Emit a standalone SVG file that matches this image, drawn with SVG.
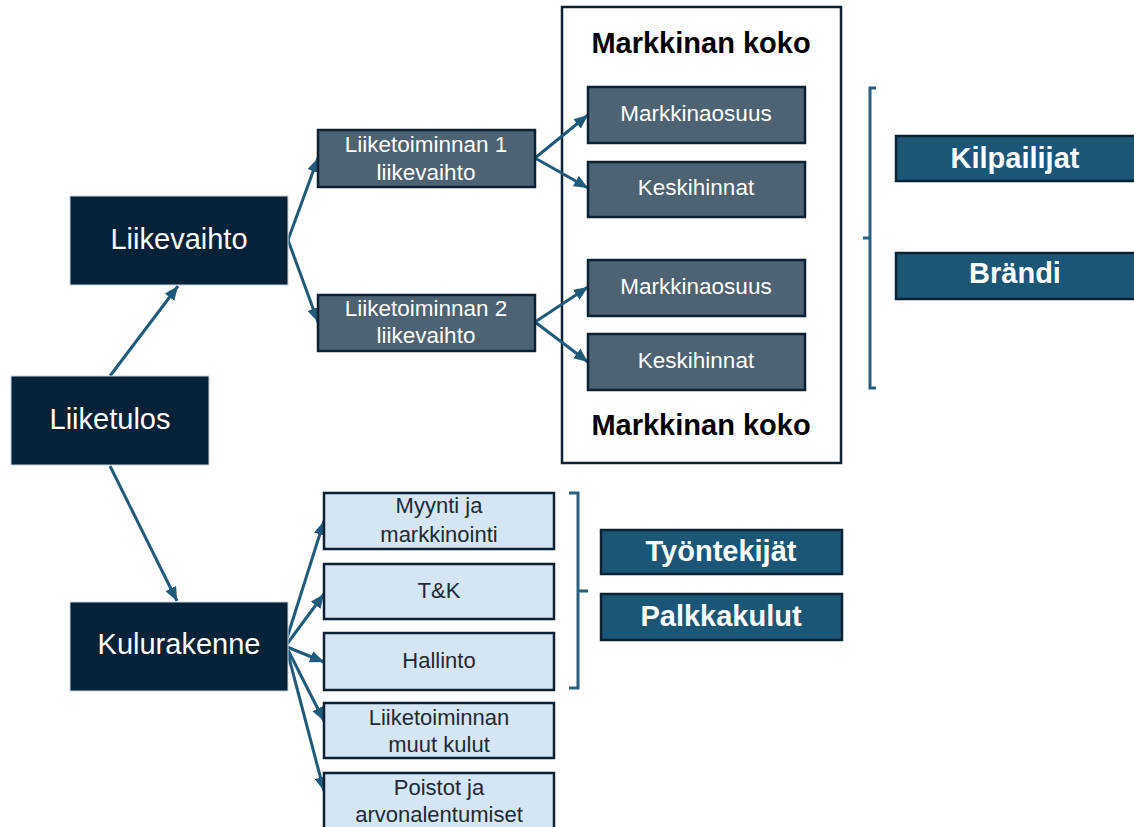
<svg xmlns="http://www.w3.org/2000/svg" width="1134" height="827" viewBox="0 0 1134 827">
<style>
.dark{fill:#052238;stroke:#c9d3dc;stroke-width:1}
.mid{fill:#4d6273;stroke:#0c2234;stroke-width:2.5}
.teal{fill:#1b5676;stroke:#0b2233;stroke-width:2.5}
.light{fill:#d6e5f4;stroke:#0c2234;stroke-width:2.5}
.frame{fill:#ffffff;stroke:#0c2234;stroke-width:2.5}
.t{font-family:"Liberation Sans",Arial,sans-serif;text-anchor:middle}
.big{font-size:29px;fill:#ffffff}
.med{font-size:22.5px;fill:#ffffff}
.lt{font-size:22px;fill:#1c2a38}
.bw{font-size:29px;font-weight:bold;fill:#ffffff}
.bb{font-size:29px;font-weight:bold;fill:#000000}
.conn{stroke:#1f5a7a;stroke-width:3;fill:none;marker-end:url(#ah)}
.br{stroke:#2a5f80;stroke-width:3;fill:none}
</style>
<defs>
<marker id="ah" markerUnits="userSpaceOnUse" markerWidth="14" markerHeight="12" refX="14" refY="6" orient="auto">
<path d="M0,0 L14,6 L0,12 z" fill="#1f5a7a"/>
</marker>
</defs>
<rect width="1134" height="827" fill="#ffffff"/>
<g id="frame-markkinan-koko">
<rect class="frame" x="562" y="7" width="279" height="456"/>
<text class="t bb" x="701" y="53">Markkinan koko</text>
<text class="t bb" x="701" y="435">Markkinan koko</text>
</g>
<g id="connectors">
<line class="conn" x1="110" y1="376" x2="178" y2="286"/>
<line class="conn" x1="110" y1="466" x2="177" y2="601"/>
<line class="conn" x1="288" y1="240" x2="318" y2="158"/>
<line class="conn" x1="288" y1="240" x2="318" y2="322"/>
<line class="conn" x1="535" y1="158" x2="588" y2="115"/>
<line class="conn" x1="535" y1="158" x2="588" y2="188"/>
<line class="conn" x1="535" y1="322" x2="588" y2="287"/>
<line class="conn" x1="535" y1="322" x2="588" y2="362"/>
<line class="conn" x1="287" y1="638" x2="324" y2="521"/>
<line class="conn" x1="287" y1="644" x2="324" y2="594"/>
<line class="conn" x1="287" y1="647" x2="324" y2="662"/>
<line class="conn" x1="288" y1="650" x2="324" y2="721"/>
<line class="conn" x1="288" y1="654" x2="324" y2="791"/>
</g>
<g id="liiketulos">
<rect class="dark" x="11" y="376" width="198" height="89"/>
<text class="t big" x="110" y="429">Liiketulos</text>
</g>
<g id="liikevaihto">
<rect class="dark" x="70" y="196" width="218" height="89"/>
<text class="t big" x="179" y="249">Liikevaihto</text>
</g>
<g id="kulurakenne">
<rect class="dark" x="70" y="602" width="218" height="89"/>
<text class="t big" x="179" y="654">Kulurakenne</text>
</g>
<g id="liiketoiminnan1">
<rect class="mid" x="318" y="130" width="217" height="57"/>
<text class="t med" x="426" y="152">Liiketoiminnan 1</text>
<text class="t med" x="426" y="180">liikevaihto</text>
</g>
<g id="liiketoiminnan2">
<rect class="mid" x="318" y="295" width="217" height="56"/>
<text class="t med" x="426" y="316">Liiketoiminnan 2</text>
<text class="t med" x="426" y="343">liikevaihto</text>
</g>
<g id="markkinaosuus1">
<rect class="mid" x="588" y="87" width="217" height="56"/>
<text class="t med" x="696" y="121">Markkinaosuus</text>
</g>
<g id="keskihinnat1">
<rect class="mid" x="588" y="162" width="217" height="55"/>
<text class="t med" x="696" y="195">Keskihinnat</text>
</g>
<g id="markkinaosuus2">
<rect class="mid" x="588" y="260" width="217" height="56"/>
<text class="t med" x="696" y="294">Markkinaosuus</text>
</g>
<g id="keskihinnat2">
<rect class="mid" x="588" y="334" width="217" height="56"/>
<text class="t med" x="696" y="368">Keskihinnat</text>
</g>
<g id="bracket-right">
<path class="br" d="M876,88 L870,88 L870,388 L876,388 M870,238 L863,238"/>
</g>
<g id="kilpailijat">
<rect class="teal" x="896" y="136" width="240" height="45"/>
<text class="t bw" x="1015" y="168">Kilpailijat</text>
</g>
<g id="brandi">
<rect class="teal" x="896" y="253" width="240" height="46"/>
<text class="t bw" x="1015" y="283">Brändi</text>
</g>
<g id="myynti">
<rect class="light" x="324" y="493" width="230" height="56"/>
<text class="t lt" x="439" y="513">Myynti ja</text>
<text class="t lt" x="439" y="542">markkinointi</text>
</g>
<g id="tk">
<rect class="light" x="324" y="564" width="230" height="55"/>
<text class="t lt" x="439" y="598">T&amp;K</text>
</g>
<g id="hallinto">
<rect class="light" x="324" y="633" width="230" height="57"/>
<text class="t lt" x="439" y="668">Hallinto</text>
</g>
<g id="muut-kulut">
<rect class="light" x="324" y="703" width="230" height="55"/>
<text class="t lt" x="439" y="725">Liiketoiminnan</text>
<text class="t lt" x="439" y="752">muut kulut</text>
</g>
<g id="poistot">
<rect class="light" x="324" y="773" width="230" height="62"/>
<text class="t lt" x="439" y="795">Poistot ja</text>
<text class="t lt" x="439" y="822">arvonalentumiset</text>
</g>
<g id="bracket-lower">
<path class="br" d="M569,493 L578,493 L578,688 L569,688 M578,591 L588,591"/>
</g>
<g id="tyontekijat">
<rect class="teal" x="601" y="530" width="241" height="44"/>
<text class="t bw" x="721" y="561">Työntekijät</text>
</g>
<g id="palkkakulut">
<rect class="teal" x="601" y="594" width="241" height="46"/>
<text class="t bw" x="721" y="626">Palkkakulut</text>
</g>
</svg>
